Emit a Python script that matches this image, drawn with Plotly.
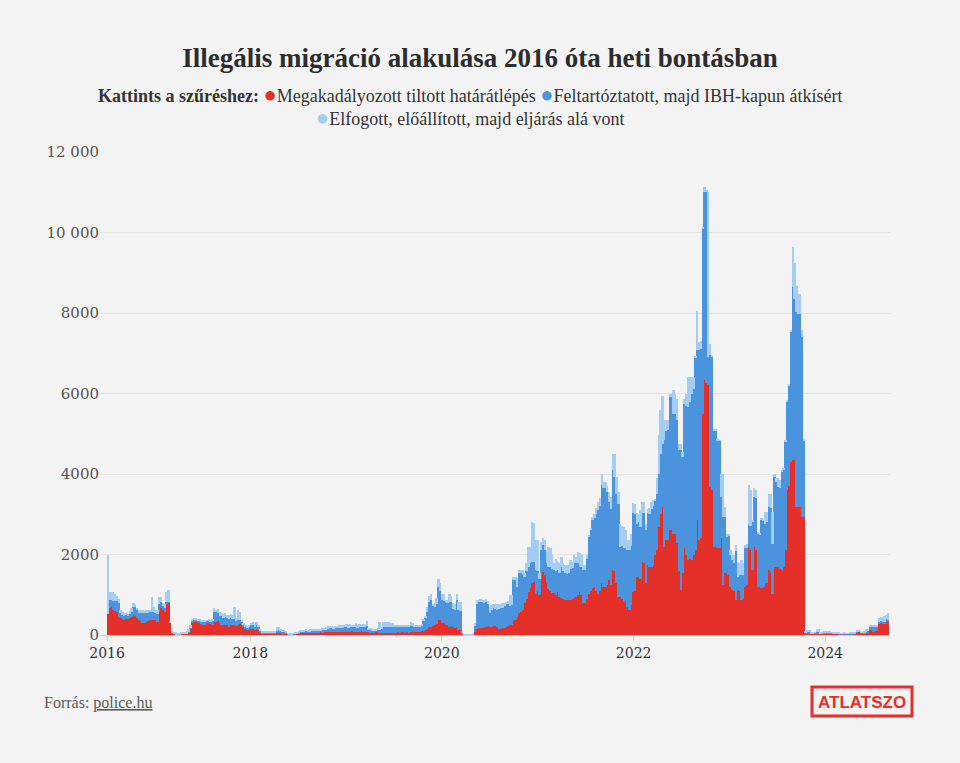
import pandas as pd
import plotly.graph_objects as go

# ---------------- data (weekly, starting week of 2016-07-04) ----------------
START = "2016-07-04"

series_names = [
    "Megakadályozott tiltott határátlépés",
    "Feltartóztatott, majd IBH-kapun átkísért",
    "Elfogott, előállított, majd eljárás alá vont",
]

megakadalyozott = [
    520, 660, 690, 620, 600, 560, 455, 420, 400, 380,      # 0
    410, 390, 420, 450, 500, 480, 420, 370, 340, 290,      # 10
    300, 330, 350, 370, 370, 380, 370, 330, 560, 660,      # 20
    620, 560, 780, 800, 290, 40, 25, 20, 15, 15,           # 30
    20, 25, 20, 30, 60, 150, 300, 330, 340, 320,           # 40
    300, 280, 260, 250, 290, 300, 270, 250, 330, 320,      # 50
    340, 300, 260, 250, 240, 260, 200, 240, 250, 250,      # 60
    230, 250, 280, 250, 200, 150, 130, 140, 160, 150,      # 70
    130, 140, 120, 60, 40, 30, 35, 30, 40, 35,             # 80
    30, 40, 50, 60, 50, 45, 40, 30, 15, 10,                # 90
    10, 15, 20, 25, 30, 50, 55, 60, 50, 55,                # 100
    60, 65, 55, 50, 60, 70, 65, 60, 70, 75,                # 110
    70, 80, 75, 65, 70, 80, 75, 70, 80, 75,                # 120
    85, 70, 80, 90, 75, 80, 70, 85, 90, 80,                # 130
    75, 80, 70, 60, 55, 60, 65, 70, 60, 60,                # 140
    40, 45, 40, 50, 45, 50, 60, 55, 65, 60,                # 150
    70, 65, 60, 70, 60, 80, 85, 80, 75, 85,                # 160
    80, 90, 110, 130, 160, 200, 210, 230, 250, 280,        # 170
    370, 380, 300, 290, 260, 240, 210, 220, 190, 180,      # 180
    190, 130, 120, 40, 10, 5, 5, 5, 8, 10,                 # 190
    80, 160, 170, 165, 180, 200, 210, 220, 200, 210,       # 200
    230, 220, 200, 140, 160, 170, 180, 210, 230, 250,      # 210
    250, 370, 380, 455, 540, 560, 620, 785, 900, 1075,     # 220
    1180, 1280, 1320, 1030, 1100, 990, 1400, 1570, 1500, 1300,  # 230
    1150, 1100, 1050, 1050, 1000, 1080, 950, 910, 900, 870,     # 240
    880, 860, 870, 900, 950, 950, 1000, 1075, 1000, 785,        # 250
    800, 900, 1030, 1100, 1160, 1200, 1100, 1030, 1100, 1280,   # 260
    1200, 1200, 1250, 1365, 1240, 1610, 1600, 1300, 950, 950,   # 270
    900, 830, 850, 700, 620, 750, 1075, 1100, 1450, 1450,       # 280
    1400, 1820, 1800, 1280, 1740, 1700, 1700, 1750, 1985, 2100, # 290
    2690, 3000, 3180, 2190, 2360, 2360, 2600, 2600, 2520, 2500, # 300
    2275, 1600, 1115, 1530, 2150, 2000, 1860, 1900, 1860, 2000, # 310
    2110, 2850, 2360, 2400, 5500, 6330, 6250, 6200, 3680, 3600, # 320
    2190, 2190, 2150, 2150, 2400, 1240, 1530, 1530, 1500, 1200, # 330
    1115, 1100, 870, 1115, 1100, 870, 900, 1200, 1250, 2190,    # 340
    2100, 1610, 2190, 2100, 1200, 1200, 1160, 1200, 1280, 1300, # 350
    1610, 1550, 1030, 1700, 1700, 1700, 1650, 1610, 1700, 2110, # 360
    3600, 3700, 4300, 4340, 4340, 3180, 3180, 3180, 2935, 2935, # 370
    50, 45, 40, 35, 30, 35, 40, 45, 30, 25,                # 380
    30, 30, 35, 40, 35, 30, 25, 30, 25, 20,                # 390
    20, 25, 20, 20, 25, 20, 25, 30, 60, 80,                # 400
    50, 40, 45, 50, 60, 125, 120, 80, 90, 100,             # 410
    290, 290, 280, 290, 330, 330,                          # 420
]

feltartoztatott = [
    0, 210, 190, 230, 250, 280, 330, 120, 100, 100,        # 0
    90, 80, 100, 120, 200, 220, 200, 180, 200, 250,        # 10
    240, 220, 200, 190, 210, 200, 170, 200, 200, 150,      # 20
    100, 120, 50, 30, 0, 0, 0, 0, 0, 0,                    # 30
    0, 0, 0, 0, 10, 30, 40, 50, 40, 50,                    # 40
    60, 60, 80, 90, 60, 50, 70, 100, 250, 240,             # 50
    200, 180, 200, 180, 200, 170, 200, 180, 160, 150,      # 60
    120, 130, 100, 80, 60, 50, 50, 60, 80, 90,             # 70
    80, 100, 80, 40, 20, 20, 15, 20, 25, 20,               # 80
    20, 30, 60, 60, 40, 35, 30, 20, 10, 10,                # 90
    5, 10, 15, 20, 30, 30, 35, 30, 40, 30,                 # 100
    35, 40, 45, 40, 50, 45, 50, 55, 60, 60,                # 110
    90, 100, 90, 80, 100, 95, 110, 110, 100, 120,          # 120
    110, 110, 120, 100, 120, 130, 110, 120, 110, 120,      # 130
    130, 140, 60, 60, 50, 55, 50, 60, 70, 80,              # 140
    160, 150, 170, 150, 160, 140, 140, 150, 140, 130,      # 150
    130, 140, 150, 140, 130, 140, 130, 120, 130, 120,      # 160
    130, 140, 250, 300, 420, 620, 660, 480, 450, 500,      # 170
    830, 720, 580, 560, 570, 560, 620, 600, 450, 440,      # 180
    680, 490, 480, 20, 5, 5, 2, 3, 4, 5,                   # 190
    150, 600, 650, 660, 640, 600, 620, 560, 340, 400,      # 200
    450, 430, 420, 500, 520, 510, 540, 560, 530, 480,      # 210
    490, 995, 985, 745, 990, 980, 900, 665, 700, 625,      # 220
    600, 540, 500, 580, 500, 400, 700, 660, 600, 500,      # 230
    550, 600, 600, 560, 600, 530, 600, 790, 700, 660,      # 240
    640, 680, 780, 760, 830, 830, 800, 625, 700, 825,      # 250
    810, 1000, 1410, 1500, 1690, 1700, 1900, 2070, 2100, 2440,  # 260
    2440, 2440, 2300, 1945, 1900, 2480, 2330, 2215, 2300, 1240, # 270
    1300, 1320, 1300, 1410, 1490, 1450, 1945, 1900, 1320, 1350, # 280
    1290, 1200, 1220, 1320, 1280, 1300, 1440, 1450, 1365, 1400, # 290
    1320, 1500, 1570, 2650, 2700, 2725, 3310, 3310, 2980, 3000, # 300
    3055, 3000, 3475, 2900, 3600, 3700, 3810, 3900, 4140, 4100, # 310
    4790, 4220, 4710, 4700, 4590, 4670, 4750, 700, 3270, 3300,  # 320
    2895, 2900, 2690, 2670, 1030, 1695, 1405, 910, 950, 800,    # 330
    745, 700, 1210, 335, 400, 620, 600, 950, 900, 540,          # 340
    600, 1190, 1240, 1300, 1320, 1300, 1700, 1650, 1490, 1500,  # 350
    1570, 1600, 1240, 2230, 2100, 1980, 2000, 2440, 2400, 2700, # 360
    2190, 2500, 3230, 4300, 4000, 4840, 4800, 4800, 4465, 1905, # 370
    20, 40, 30, 10, 10, 15, 40, 40, 10, 15,                # 380
    20, 20, 25, 20, 15, 10, 10, 10, 10, 10,                # 390
    10, 10, 10, 10, 10, 10, 10, 10, 20, 15,                # 400
    10, 10, 10, 30, 30, 85, 90, 130, 120, 110,             # 410
    40, 60, 50, 40, 80, 50,                                # 420
]

elfogott = [
    1480, 200, 180, 220, 160, 120, 100, 80, 70, 60,        # 0
    50, 60, 80, 100, 90, 80, 60, 70, 80, 80,               # 10
    60, 70, 60, 70, 370, 120, 80, 90, 190, 140,            # 20
    80, 100, 250, 280, 60, 50, 40, 45, 40, 45,             # 30
    50, 45, 55, 60, 80, 60, 60, 40, 30, 40,                # 40
    40, 30, 40, 30, 20, 30, 30, 40, 80, 60,                # 50
    100, 80, 80, 90, 100, 60, 100, 110, 80, 300,           # 60
    80, 240, 200, 50, 40, 40, 40, 60, 60, 80,              # 70
    70, 90, 60, 40, 30, 30, 30, 25, 30, 25,                # 80
    30, 40, 90, 80, 50, 40, 50, 30, 20, 20,                # 90
    20, 20, 25, 30, 40, 40, 30, 40, 50, 35,                # 100
    45, 30, 40, 60, 50, 35, 45, 50, 40, 60,                # 110
    60, 50, 70, 50, 60, 55, 60, 70, 60, 60,                # 120
    80, 60, 70, 60, 50, 80, 60, 70, 50, 80,                # 130
    60, 140, 40, 50, 40, 45, 40, 50, 200, 60,              # 140
    120, 130, 110, 120, 100, 110, 50, 45, 40, 60,          # 150
    50, 45, 40, 50, 60, 110, 90, 50, 45, 50,               # 160
    40, 50, 50, 40, 120, 160, 160, 60, 85, 150,            # 170
    200, 180, 150, 170, 40, 70, 200, 150, 150, 160,        # 180
    160, 200, 220, 20, 5, 5, 5, 4, 6, 10,                  # 190
    60, 100, 60, 60, 50, 80, 60, 60, 160, 140,             # 200
    100, 130, 160, 140, 100, 110, 80, 60, 90, 260,         # 210
    250, 85, 70, 205, 80, 70, 100, 80, 200, 490,           # 220
    400, 990, 960, 750, 760, 140, 200, 170, 250, 300,      # 230
    490, 450, 350, 190, 300, 200, 250, 245, 200, 210,      # 240
    220, 200, 210, 150, 200, 165, 250, 325, 300, 130,      # 250
    120, 100, 40, 50, 85, 100, 150, 210, 200, 290,         # 260
    160, 160, 150, 245, 300, 410, 570, 415, 300, 580,      # 270
    500, 540, 450, 250, 250, 300, 250, 250, 250, 200,      # 280
    410, 290, 290, 170, 120, 150, 170, 150, 40, 400,       # 290
    950, 1100, 1200, 490, 270, 245, 90, 90, 580, 500,      # 300
    540, 150, 160, 120, 120, 300, 740, 610, 410, 300,      # 310
    30, 990, 210, 200, 40, 120, 50, 4100, 290, 50,         # 320
    45, 40, 20, 20, 580, 1075, 245, 80, 70, 100,           # 330
    125, 200, 150, 370, 300, 370, 300, 80, 100, 990,       # 340
    900, 50, 210, 200, 30, 40, 30, 40, 290, 250,           # 350
    335, 350, 790, 80, 100, 210, 200, 40, 50, 30,          # 360
    40, 40, 40, 990, 900, 660, 500, 500, 170, 20,          # 370
    20, 40, 55, 15, 15, 20, 60, 55, 20, 20,                # 380
    30, 30, 45, 40, 20, 15, 15, 20, 15, 15,                # 390
    10, 15, 15, 10, 15, 20, 15, 15, 45, 30,                # 400
    20, 20, 25, 60, 50, 40, 40, 40, 50, 40,                # 410
    85, 105, 120, 130, 90, 175,                            # 420
]

x_tick_labels = ["2016", "2018", "2020", "2022", "2024"]
x_tick_dates = [START, "2018-01-01", "2020-01-01", "2022-01-01", "2024-01-01"]
y_tick_values = [0, 2000, 4000, 6000, 8000, 10000, 12000]
y_tick_labels = ["0", "2000", "4000", "6000", "8000", "10 000", "12 000"]

colors = ["#e5302a", "#4b93dc", "#a3cdf2"]

# ---------------- figure ----------------
weeks = pd.date_range(START, periods=len(megakadalyozott), freq="7D")
WEEK_MS = 7 * 24 * 3600 * 1000

SERIF = "Liberation Serif"
WIDE_SERIF = "DejaVu Serif"
W, H = 960, 763
ML, MR, MT, MB = 100, 70, 152, 128
PW, PH = W - ML - MR, H - MT - MB


def px(xp):
    return (xp - ML) / PW


def py(yp):
    return (H - MB - yp) / PH


fig = go.Figure()
for name, vals, col in zip(series_names, [megakadalyozott, feltartoztatott, elfogott], colors):
    fig.add_trace(go.Bar(
        x=weeks, y=vals, name=name,
        xperiod=WEEK_MS, xperiod0=START, xperiodalignment="middle",
        marker=dict(color=col, line=dict(width=0)),
        showlegend=False,
    ))


def dot(c):
    return f"<span style='color:{c};font-size:22px'>●</span>"


legend_text = (
    "<b>Kattints a szűréshez:</b> "
    f"{dot(colors[0])}{series_names[0]} "
    f"{dot(colors[1])}{series_names[1]}<br>"
    f"{dot(colors[2])}{series_names[2]}"
)

annotations = [
    dict(text=legend_text, x=px(470), y=py(106), xref="paper", yref="paper",
         xanchor="center", yanchor="middle", align="center", showarrow=False,
         font=dict(family=SERIF, size=18, color="#333333")),
    dict(text="Forrás: <span style='text-decoration:underline'>police.hu</span>",
         x=px(42), y=py(703), xref="paper", yref="paper",
         xanchor="left", yanchor="middle", showarrow=False,
         font=dict(family=SERIF, size=16, color="#5a5a5a")),
    dict(text="<b>ATLATSZO</b>", x=px(862), y=py(702), xref="paper", yref="paper",
         xanchor="center", yanchor="middle", showarrow=False,
         font=dict(family="Liberation Sans Narrow, Liberation Sans", size=17, color="#e5302a")),
]

shapes = [
    dict(type="rect", xref="paper", yref="paper",
         x0=px(812), x1=px(912), y0=py(716), y1=py(687),
         line=dict(color="#e5302a", width=3), fillcolor="rgba(0,0,0,0)"),
]

fig.update_layout(
    width=W, height=H,
    margin=dict(l=ML, r=MR, t=MT, b=MB),
    paper_bgcolor="#f3f3f3", plot_bgcolor="#f3f3f3",
    barmode="stack", bargap=0,
    title=dict(text="<b>Illegális migráció alakulása 2016 óta heti bontásban</b>",
               x=0.5, xref="container", xanchor="center",
               y=1 - 58 / H, yanchor="middle",
               font=dict(family=SERIF, size=27, color="#2d2d2d")),
    xaxis=dict(type="date", range=["2016-06-07", "2024-09-04"],
               tickvals=x_tick_dates, ticktext=x_tick_labels,
               ticks="outside", ticklen=5, tickcolor="#cccccc",
               showgrid=False, zeroline=False, showline=False,
               tickfont=dict(family=WIDE_SERIF, size=14, color="#333333")),
    yaxis=dict(range=[0, 12000], tickvals=y_tick_values, ticktext=y_tick_labels,
               gridcolor="#e3e3e3", gridwidth=1,
               zeroline=True, zerolinecolor="#cfcfcf", zerolinewidth=1,
               showline=False, ticks="",
               tickfont=dict(family=WIDE_SERIF, size=15, color="#555555")),
    annotations=annotations,
    shapes=shapes,
    hovermode=False,
)

fig.write_html("out.html", config={"displayModeBar": False},
               post_script="document.body.style.margin='0px';")
